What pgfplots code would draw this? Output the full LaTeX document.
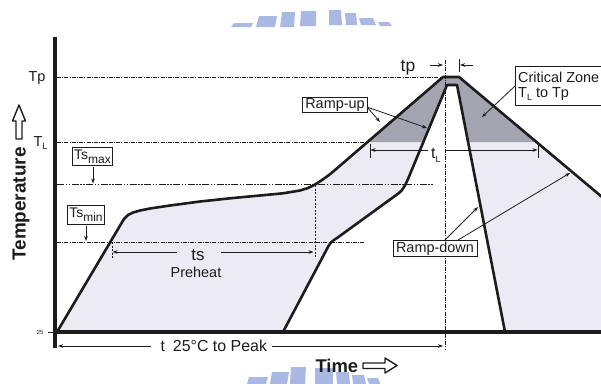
\documentclass[border=0pt]{standalone}
\usepackage{pgfplots}
\pgfplotsset{compat=1.18}
\usepackage{fontspec}
\setmainfont{Liberation Sans}
\usetikzlibrary{arrows.meta}
\definecolor{lightfill}{RGB}{236,234,242}
\definecolor{darkfill}{RGB}{164,163,176}
\definecolor{wm}{RGB}{170,184,228}
\definecolor{ink}{RGB}{28,28,28}
\newcommand{\fs}[1]{\fontsize{#1}{#1}\selectfont}
\tikzset{arr/.style={-{Stealth[length=5bp,width=3.6bp]}, line width=0.8bp, draw=ink},
  refl/.style={ink, line width=1bp, dash pattern=on 4bp off 1.2bp on 1bp off 1.2bp},
  lbl/.style={draw=ink, line width=0.8bp, fill=white, inner xsep=3bp, inner ysep=1.2bp, text=ink}}
\begin{document}
\begin{tikzpicture}
\begin{axis}[x=1bp, y=1bp, y dir=reverse, xmin=0, xmax=601, ymin=0, ymax=383,
  axis lines=none, clip=true, every axis plot/.append style={line join=round, line cap=butt}]
% watermark
\addplot[draw=none, fill=wm] coordinates {(231,27) (234,23) (253,23) (251,27)} -- cycle;
\addplot[draw=none, fill=wm] coordinates {(256,27) (259,16) (277,16) (275,27)} -- cycle;
\addplot[draw=none, fill=wm] coordinates {(280,27) (282,12) (295,12) (294,27)} -- cycle;
\addplot[draw=none, fill=wm] coordinates {(300,26) (301,11) (316,11) (316,26)} -- cycle;
\addplot[draw=none, fill=wm] coordinates {(329,25) (329,10) (341,10) (342,25)} -- cycle;
\addplot[draw=none, fill=wm] coordinates {(346,25) (345,13) (356,13) (357,25)} -- cycle;
\addplot[draw=none, fill=wm] coordinates {(361,25) (359,18) (373,18) (376,25)} -- cycle;
\addplot[draw=none, fill=wm] coordinates {(380,26) (378,22) (389,22) (392,26)} -- cycle;
\addplot[draw=none, fill=wm] coordinates {(247,384) (249,377) (268,377) (266,384)} -- cycle;
\addplot[draw=none, fill=wm] coordinates {(270,384) (272,372) (289,372) (287,384)} -- cycle;
\addplot[draw=none, fill=wm] coordinates {(290,384) (291,367) (306,367) (305,384)} -- cycle;
\addplot[draw=none, fill=wm] coordinates {(315,384) (315,368) (333,368) (333,384)} -- cycle;
\addplot[draw=none, fill=wm] coordinates {(337,384) (336,372) (349,372) (350,384)} -- cycle;
\addplot[draw=none, fill=wm] coordinates {(353,384) (352,375) (364,375) (366,384)} -- cycle;
\addplot[draw=none, fill=wm] coordinates {(369,384) (367,378) (378,378) (380,384)} -- cycle;
% fills
\addplot[draw=none, fill=lightfill] coordinates {(57,332) (121,224) (124,219) (128,215) (133,212.5) (140,210.5) (150,208.5) (170,205.5) (200,201.5) (233,198) (260,195.5) (283,193.3) (300,190.5) (308,188) (315,184.5) (322,180) (329,175) (335,170) (443,77) (459,77) (601,196) (601,332)} -- cycle;
\addplot[draw=none, fill=darkfill] coordinates {(367.5,142) (443,77) (459,77) (536.6,142)} -- cycle;
\addplot[draw=none, fill=white] coordinates {(283,332) (328.5,246) (331,242.5) (334,240) (338,237.3) (399,193) (402,190) (405,185.5) (408,179) (447,85) (457,85) (505,332)} -- cycle;
% reference lines
\addplot[refl] coordinates {(57,77) (443,77)};
\addplot[refl] coordinates {(57,142) (368,142)};
\addplot[ink, line width=1.8bp, dash pattern=on 7bp off 1.5bp on 1.5bp off 1.5bp on 1.5bp off 1.5bp] coordinates {(57,184.5) (433,184.5)};
\addplot[refl] coordinates {(57,242) (365,242)};
\addplot[ink, line width=1bp, dash pattern=on 2bp off 1.5bp] coordinates {(315,185) (315,258)};
\addplot[ink, line width=0.9bp, dash pattern=on 2bp off 1.5bp] coordinates {(112,242) (112,258)};
\addplot[ink, line width=1bp, dash pattern=on 4bp off 1.2bp on 1bp off 1.2bp] coordinates {(445,60) (445,350)};
% profiles
\addplot[ink, line width=2.6bp] coordinates {(57,332) (121,224) (124,219) (128,215) (133,212.5) (140,210.5) (150,208.5) (170,205.5) (200,201.5) (233,198) (260,195.5) (283,193.3) (300,190.5) (308,188) (315,184.5) (322,180) (329,175) (335,170) (443,77) (459,77) (605,199.5)};
\addplot[ink, line width=2.6bp] coordinates {(283,332) (328.5,246) (331,242.5) (334,240) (338,237.3) (399,193) (402,190) (405,185.5) (408,179) (447,85) (457,85) (505,332)};
% axes
\addplot[ink, line width=3.6bp] coordinates {(55,37) (55,348)};
\addplot[ink, line width=3.6bp] coordinates {(55,332) (605,332)};
\addplot[ink, line width=0.8bp] coordinates {(48,332) (55,332)};
% tp
\addplot[arr] coordinates {(430,65) (443,65)};
\addplot[arr] coordinates {(473,65) (460,65)};
\addplot[ink, line width=0.8bp] coordinates {(459.5,59) (459.5,72)};
% tL
\addplot[ink, line width=0.8bp] coordinates {(370,144) (370,158)};
\addplot[ink, line width=0.8bp] coordinates {(538,144) (538,158)};
\addplot[arr] coordinates {(428,150) (370.5,150)};
\addplot[arr] coordinates {(445,150) (537.5,150)};
% ts
\addplot[arr] coordinates {(177,252) (112.5,252)};
\addplot[arr] coordinates {(221,252) (313.5,252)};
% t 25C to peak
\addplot[arr] coordinates {(151,346) (58,346)};
\addplot[arr] coordinates {(272,346) (443,346)};
% Ts arrows
\addplot[arr] coordinates {(93,167) (93,183.5)};
\addplot[arr] coordinates {(86,225.5) (86,241)};
% ramp-up arrows
\addplot[arr] coordinates {(367,107) (380,122)};
\addplot[arr] coordinates {(367,107) (427,128)};
% ramp-down arrows
\addplot[arr] coordinates {(445,240) (478,207)};
\addplot[arr] coordinates {(458,240) (570,173)};
% critical zone
\addplot[arr] coordinates {(515,86) (482,117)};
\addplot[ink, line width=0.8bp, fill=white] coordinates {(515,66) (610,66) (610,105) (515,105)} -- cycle;
% hollow arrows
\addplot[ink, line width=1.4bp, fill=white] coordinates {(363,363) (385,363) (385,358) (397,365.5) (385,373) (385,368.5) (363,368.5)} -- cycle;
\addplot[ink, line width=1.4bp, fill=white] coordinates {(16,139) (16,121) (12.5,121) (19,105) (25.5,121) (22,121) (22,139)} -- cycle;
% texts
\node[anchor=east, text=ink, font=\fs{14.5}] at (49,78) {Tp};
\node[anchor=base east, text=ink, font=\fs{14.5}] at (51,146) {T\raisebox{-3bp}{\fs{9}L}};
\node[anchor=east, text=ink, font=\fs{6}] at (47,332) {25};
\node[rotate=90, anchor=base, text=ink, font=\bfseries\fs{19}] at (25.5,204) {Temperature};
\node[anchor=base west, text=ink, font=\bfseries\fs{18.5}] at (312,372) {Time};
\node[anchor=base west, text=ink, font=\fs{16}] at (157,351) {t\hspace{8bp}25°C to Peak};
\node[anchor=base, text=ink, font=\fs{17}] at (198,260) {ts};
\node[anchor=base, text=ink, font=\fs{14.5}] at (196,277) {Preheat};
\node[anchor=base, text=ink, font=\fs{17.5}] at (408,71) {tp};
\node[anchor=base west, text=ink, font=\fs{16}, inner sep=0pt] at (431,158) {t\raisebox{-4bp}{\fs{9}L}};
\node[lbl, font=\fs{14.5}] at (335,105) {Ramp-up};
\node[lbl, font=\fs{14.5}] at (435,248.5) {Ramp-down};
\node[lbl, inner xsep=2bp, inner ysep=2.5bp, font=\fs{14}] at (92.5,156.5) {Ts\raisebox{-4bp}{\fs{12}max}};
\node[lbl, inner xsep=2bp, inner ysep=2.5bp, font=\fs{14}] at (86,215) {Ts\raisebox{-4bp}{\fs{12}min}};
\node[anchor=base west, text=ink, font=\fs{14.5}, inner sep=0pt] at (518,82) {Critical Zone};
\node[anchor=base west, text=ink, font=\fs{14.5}, inner sep=0pt] at (518,97) {T\raisebox{-3bp}{\fs{9}L}\ to Tp};
\coordinate (bl) at (0,383);
\coordinate (tr) at (601,0);
\end{axis}
\pgfresetboundingbox
\useasboundingbox (bl) rectangle (tr);
\end{tikzpicture}
\end{document}
